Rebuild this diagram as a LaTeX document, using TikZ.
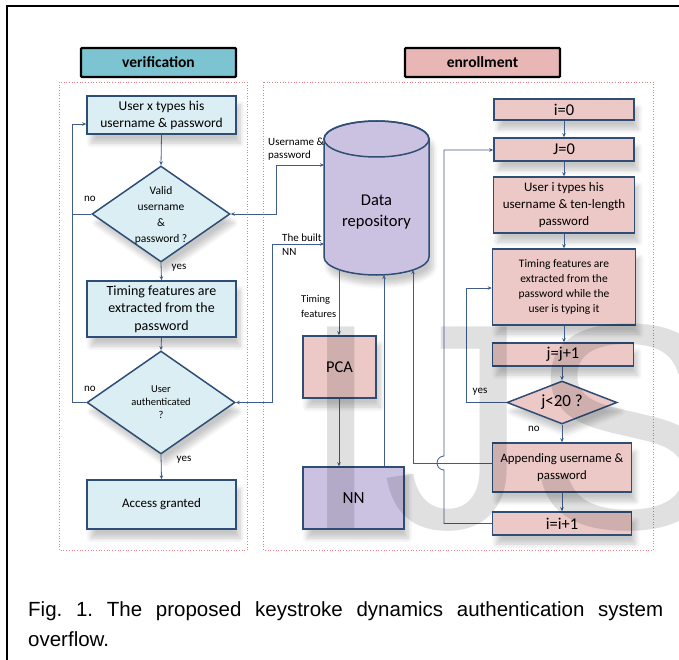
\documentclass[tikz,border=0pt]{standalone}
\usepackage{fontspec}
\setmainfont{Carlito}
\newfontfamily\capfont{Liberation Sans}
\usetikzlibrary{arrows.meta,shapes.geometric,shadows.blur}
\definecolor{tealT}{RGB}{124,196,209}
\definecolor{pinkT}{RGB}{232,182,180}
\definecolor{lblue}{RGB}{219,238,244}
\definecolor{lpink}{RGB}{236,200,198}
\definecolor{lav}{RGB}{203,194,226}
\definecolor{navy}{RGB}{46,78,118}
\definecolor{lnav}{RGB}{62,92,140}
\definecolor{dotred}{RGB}{226,128,138}
\newcommand{\fsz}[2]{\fontsize{#1}{#2}\selectfont}
\begin{document}
\begin{tikzpicture}[x=1pt,y=-1pt,
  titlebox/.style={draw=black,line width=2.2pt,inner sep=0pt,minimum width=155pt,minimum height=29pt,font=\bfseries\fsz{15.5}{18},rounded corners=1pt},
  panel/.style={draw=dotred,line width=0.7pt,dotted},
  shad/.style={blur shadow={shadow xshift=4pt,shadow yshift=-9pt,shadow opacity=22,shadow blur radius=5pt,shadow blur steps=8}},
  vbox/.style={draw=navy,line width=1.5pt,fill=lblue,inner sep=0pt,align=center,shad},
  ebox/.style={draw=navy,line width=1.5pt,fill=lpink,inner sep=0pt,align=center,shad},
  dia/.style={diamond,draw=navy,line width=1.5pt,inner sep=0pt,shad},
  txt/.style={inner sep=0pt,align=center},
  lbl/.style={inner sep=0pt,align=left,font=\fsz{11}{14}},
  conn/.style={draw=lnav,line width=0.8pt},
  arr/.style={conn,-{Stealth[length=4pt,width=3.5pt]}},
  darr/.style={conn,{Stealth[length=4pt,width=3.5pt]}-{Stealth[length=4pt,width=3.5pt]}}
]
\useasboundingbox (0,0) rectangle (679,660);
% outer frame
\draw[line width=2pt] (7,660) -- (7,6) -- (679,6);

% titles
\node[titlebox,fill=tealT] (tv) at (158.5,62.5) {verification};
\node[titlebox,fill=pinkT] (te) at (482.5,62.5) {enrollment};

% panels
\draw[panel] (59,82) rectangle (247,550);
\draw[panel] (263,82) rectangle (653,550);

% verification column
\node[vbox,minimum width=149pt,minimum height=38pt,font=\fsz{13.5}{17}] (v1) at (161.5,115) {User x types his\\username \& password};
\node[dia,fill=lblue,minimum width=138pt,minimum height=96pt] (d1) at (161,214) {};
\node[txt,font=\fsz{11.5}{16}] (d1t) at (161,215) {Valid\\username\\\&\\password ?};
\node[vbox,minimum width=149pt,minimum height=56pt,font=\fsz{14}{17.5}] (v2) at (161.5,309) {Timing features are\\extracted from the\\password};
\node[dia,fill=lblue,minimum width=148pt,minimum height=103pt] (d2) at (161,402.5) {};
\node[txt,font=\fsz{10.5}{13}] (d2t) at (161,402) {User\\authenticated\\?};
\node[vbox,minimum width=149pt,minimum height=49pt,font=\fsz{13}{16}] (v3) at (161.5,504.5) {Access granted};

\draw[arr] (v1.south) -- (d1.north);
\draw[arr] (d1.south) -- (v2.north);
\draw[arr] (v2.south) -- (d2.north);
\draw[arr] (d2.south) -- (v3.north);
\coordinate (lv) at (72,124);
\draw[arr] (d1.west) -| (lv) -- (lv -| v1.west);
\draw[conn] (d2.west) -| (72,214);
\node[lbl] (no1) at (90,199) {no};
\node[lbl] (yes1) at (179,268) {yes};
\node[lbl] (no2) at (90,389) {no};
\node[lbl] (yes2) at (184,460) {yes};

% data repository (cylinder)
\draw[draw=navy,line width=1.5pt,fill=lav,shad]
  (324,139) -- (324,257) arc[start angle=180,end angle=360,x radius=52.5pt,y radius=18pt]
  -- (429,139) arc[start angle=0,end angle=180,x radius=52.5pt,y radius=18pt] -- cycle;
\draw[draw=navy,line width=1.5pt] (376.5,139) ellipse[x radius=52.5pt,y radius=18pt];
\node[txt,minimum width=105pt,minimum height=154pt,font=\fsz{16.5}{21}] (db) at (376.5,212) {Data\\repository};

\node[ebox,fill=lpink,minimum width=73pt,minimum height=62pt,font=\fsz{16.5}{20}] (pca) at (339.5,367) {PCA};
\node[ebox,fill=lav,minimum width=101pt,minimum height=62pt,font=\fsz{17}{20}] (nn) at (353.5,498) {NN};

\coordinate (cU) at (324,165);
\coordinate (cN) at (324,244);
\coordinate (cT) at (339,269);
\coordinate (cR) at (384,275);
\coordinate (cA) at (413,270);
\draw[darr] (d1.east) -| (276,165) -- (cU);
\draw[darr] (d2.east) -| (272,244) -- (cN);
\node[lbl] (lu) at (268,142) [anchor=west] {Username \&};
\node[lbl] (lp) at (268,156) [anchor=west] {password};
\node[lbl] (lb) at (282,238) [anchor=west] {The built};
\node[lbl] (ln) at (282,252) [anchor=west] {NN};
\node[lbl,font=\fsz{10.5}{14}] (lt1) at (301,300) [anchor=west] {Timing};
\node[lbl,font=\fsz{10.5}{14}] (lt2) at (301,314) [anchor=west] {features};

\draw[arr] (cT) -- (cT |- pca.north);
\draw[arr] (pca.south -| cT) -- (cT |- nn.north);
\draw[arr] (nn.north -| cR) -- (cR);

% enrollment column
\node[ebox,minimum width=140pt,minimum height=21pt,font=\fsz{16.5}{20}] (e0) at (564,109.5) {i=0};
\node[ebox,minimum width=140pt,minimum height=23pt,font=\fsz{16.5}{20}] (e1) at (564,149.5) {J=0};
\node[ebox,minimum width=141pt,minimum height=56pt,font=\fsz{13}{16.7}] (e2) at (564,205) {User i types his\\username \& ten-length\\password};
\node[ebox,minimum width=143pt,minimum height=76pt,font=\fsz{11.5}{14.7}] (e3) at (564,287) {Timing features are\\extracted from the\\password while the\\user is typing it};
\node[ebox,minimum width=141pt,minimum height=23pt,font=\fsz{16.5}{20}] (e4) at (563,354.5) {j=j+1};
\node[dia,fill=lpink,minimum width=110pt,minimum height=43pt] (d3) at (562,402.5) {};
\node[txt,font=\fsz{17}{20}] (d3t) at (562,402.5) {j<20 ?};
\node[ebox,minimum width=139pt,minimum height=49pt,font=\fsz{12.8}{16.7}] (e5) at (562,467.5) {Appending username \&\\password};
\node[ebox,minimum width=139pt,minimum height=23pt,font=\fsz{16.5}{20}] (e6) at (562,523.5) {i=i+1};

\draw[arr] (e0.south) -- (e1.north);
\draw[arr] (e1.south) -- (e2.north);
\draw[arr] (e2.south) -- (e3.north);
\draw[arr] (e3.south) -- (e3.south |- e4.north);
\draw[arr] (e4.south -| d3.north) -- (d3.north);
\draw[arr] (d3.south) -- (d3.south |- e5.north);
\draw[arr] (e5.south) -- (e6.north);

\coordinate (cy) at (466,288);
\draw[arr] (d3.west) -| (cy) -- (cy -| e3.west);
\node[lbl] (yes3) at (480,392) {yes};
\node[lbl] (no3) at (534,429) {no};

\draw[arr] (e5.west |- 0,463) -- (413,463) -- (cA);
\coordinate (cj) at (444,150);
\draw[arr] (e6.west) -- (444,523.5) -- (444,470) arc[start angle=270,end angle=90,radius=7pt] -- (cj) -- (cj -| e1.west);

% watermark
\node[anchor=base west,inner sep=0pt,font=\capfont\fsz{293}{293},text=black,text opacity=0.12] (wm) at (300.5,528) {IJS};

% caption
\frenchspacing
\node[anchor=base west,inner sep=0pt,font=\capfont\fsz{20.5}{30}] (cap1) at (28,616) {\frenchspacing\makebox[635pt][s]{Fig. 1. The proposed keystroke dynamics authentication system}};
\node[anchor=base west,inner sep=0pt,font=\capfont\fsz{20.5}{30}] (cap2) at (28,646) {overflow.};
\end{tikzpicture}
\end{document}
